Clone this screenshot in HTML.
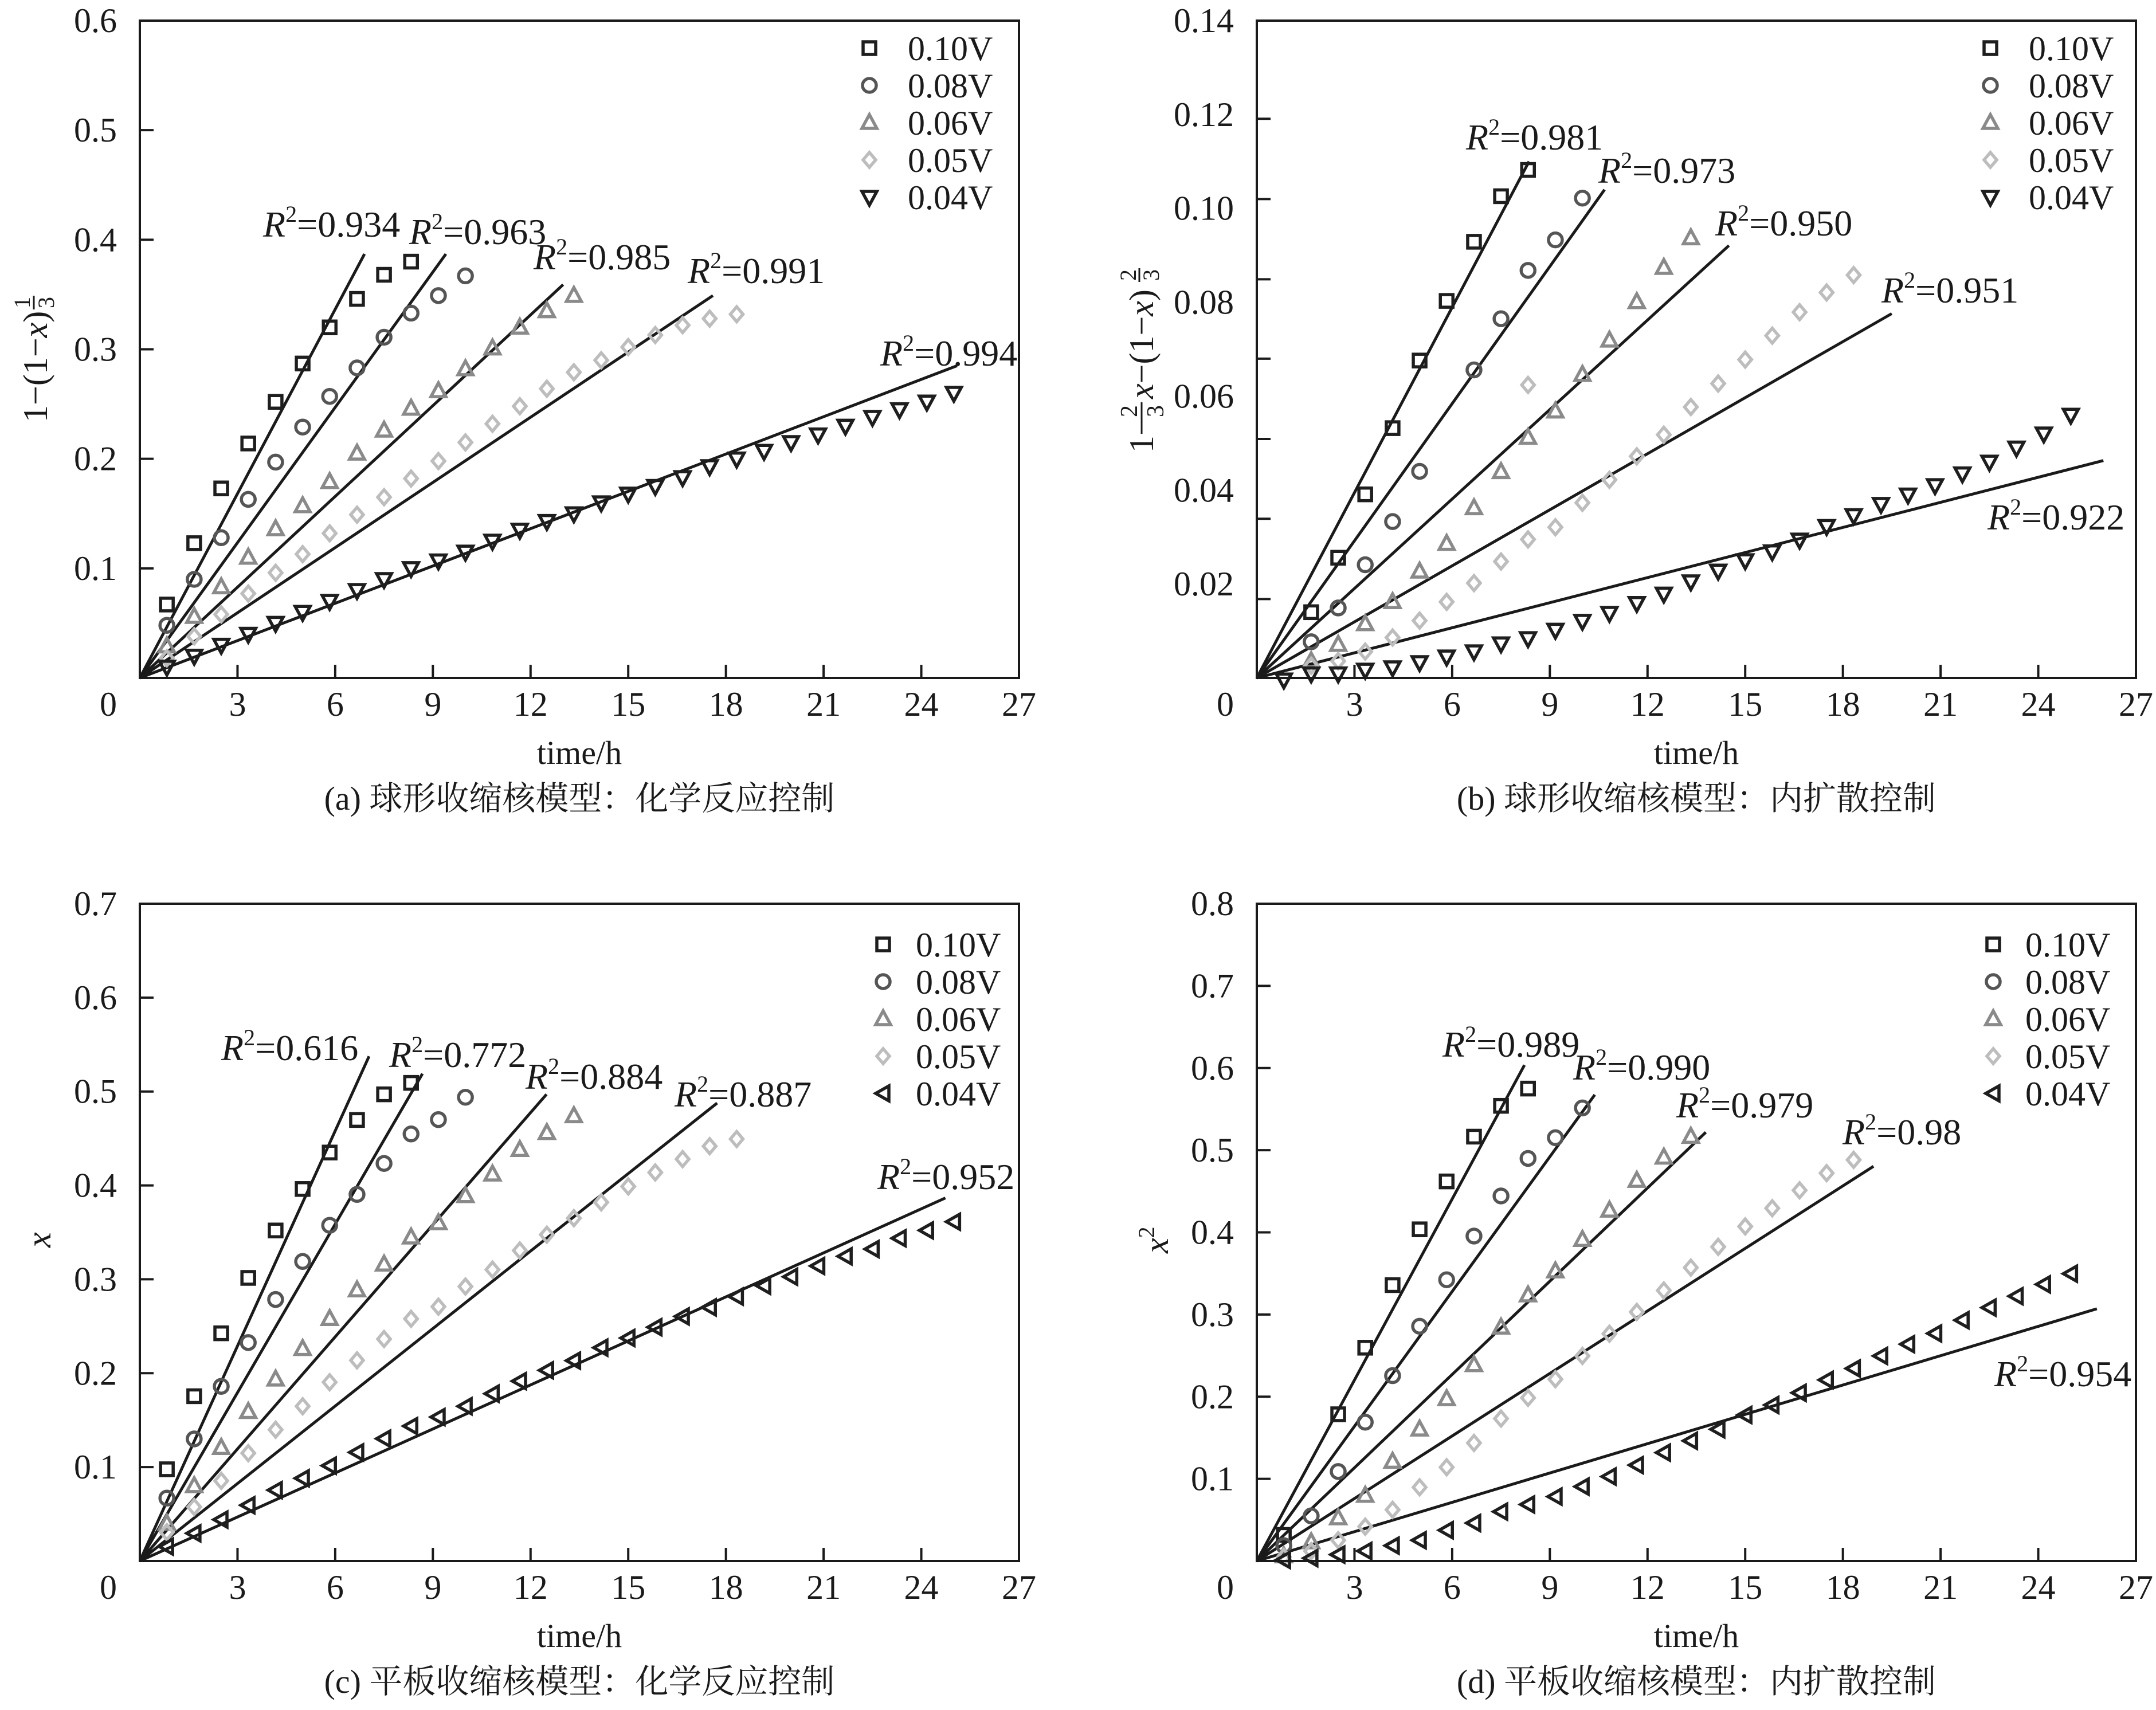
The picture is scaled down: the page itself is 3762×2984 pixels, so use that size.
<!DOCTYPE html>
<html><head><meta charset="utf-8">
<style>
html,body{margin:0;padding:0;background:#fff;}
svg{display:block;}
text{font-family:"Liberation Serif","Noto Serif CJK SC",serif;fill:#1a1a1a;}
.cap{font-family:"Liberation Serif","Noto Serif CJK SC","Noto Sans CJK SC",serif;}
</style></head>
<body>
<svg id="fig" xmlns="http://www.w3.org/2000/svg" width="3762" height="2984" viewBox="0 0 3762 2984">
<rect width="3762" height="2984" fill="#fff"/>
<g transform="translate(82,622) rotate(-90)">
<text x="-115" y="0" font-size="60">1−(1−<tspan font-style="italic">x</tspan>)</text>
<text x="84" y="-30" font-size="40">1</text><line x1="82" y1="-23" x2="106" y2="-23" stroke="#1a1a1a" stroke-width="3"/><text x="84" y="12" font-size="40">3</text>
</g>
<g transform="translate(2012,600) rotate(-90)">
<text x="-190" y="0" font-size="60">1−</text>
<text x="-128" y="-28" font-size="42">2</text><line x1="-132" y1="-20" x2="-102" y2="-20" stroke="#1a1a1a" stroke-width="3"/><text x="-128" y="18" font-size="42">3</text>
<text x="-96" y="0" font-size="60"><tspan font-style="italic">x</tspan>−(1−<tspan font-style="italic">x</tspan>)</text>
<text x="110" y="-30" font-size="40">2</text><line x1="108" y1="-24" x2="132" y2="-24" stroke="#1a1a1a" stroke-width="3"/><text x="110" y="10" font-size="40">3</text>
</g>
<g transform="translate(88,2165) rotate(-90)"><text x="-12" y="0" font-size="60" font-style="italic">x</text></g>
<g transform="translate(2038,2165) rotate(-90)"><text x="-22" y="0" font-size="60"><tspan font-style="italic">x</tspan><tspan font-size="40" dy="-24">2</tspan></text></g>
</svg>
<script>
const T = [0.83,1.67,2.5,3.33,4.17,5,5.83,6.67,7.5,8.33,9.17,10,10.83,11.67,12.5,13.33,14.17,15,15.83,16.67,17.5,18.33,19.17,20,20.83,21.67,22.5,23.33,24.17,25];
const seriesNames = ["0.10V","0.08V","0.06V","0.05V","0.04V"];
const xTicks = [3,6,9,12,15,18,21,24];
const xTickLabels = ["3","6","9","12","15","18","21","24","27"];
const xTickLabelVals = [3,6,9,12,15,18,21,24,27];

const a10 = [0.067,0.123,0.173,0.214,0.252,0.287,0.320,0.346,0.368,0.380];
const a08 = [0.048,0.090,0.128,0.163,0.197,0.229,0.257,0.283,0.311,0.333,0.349,0.367];
const a06 = [0.029,0.056,0.083,0.110,0.136,0.157,0.179,0.205,0.226,0.246,0.262,0.282,0.301,0.320,0.335,0.349];
const a05 = [0.018,0.038,0.058,0.077,0.096,0.113,0.132,0.149,0.165,0.182,0.198,0.215,0.232,0.248,0.264,0.279,0.290,0.302,0.313,0.322,0.328,0.332];
const a04 = [0.010,0.020,0.030,0.040,0.050,0.060,0.070,0.080,0.090,0.100,0.107,0.115,0.125,0.135,0.143,0.150,0.160,0.168,0.175,0.183,0.193,0.200,0.207,0.215,0.222,0.230,0.238,0.245,0.252,0.260];
const aFitEndT = [6.9,9.4,13.0,17.6,25.1];
const aFitEndV = [0.387,0.387,0.359,0.349,0.285];
const aR2 = ["0.934","0.963","0.985","0.991","0.994"];
const aYTicks = [0.1,0.2,0.3,0.4,0.5];
const aYLabels = ["0.1","0.2","0.3","0.4","0.5","0.6"];
const aYLabelVals = [0.1,0.2,0.3,0.4,0.5,0.6];

const b10 = [null,0.0140,0.0256,0.0391,0.0532,0.0676,0.0803,0.0929,0.1026,0.1082];
const b08 = [null,0.0077,0.0149,0.0241,0.0333,0.0440,null,0.0656,0.0765,0.0868,0.0933,0.1022];
const b06 = [null,0.0036,0.0071,0.0115,0.0162,0.0227,0.0286,0.0362,0.0439,0.0512,0.0568,0.0646,0.0719,0.0801,0.0874,0.0937];
const b05 = [null,0.0026,0.0036,0.0056,0.0086,0.0122,0.0162,0.0202,0.0248,0.0295,0.0321,0.0373,0.0422,0.0472,0.0518,0.0577,0.0627,0.0678,0.0729,0.0779,0.0821,0.0858];
const b05OutlierT = [8.33];
const b05OutlierV = [0.0624];
const b04 = [-0.0004,0.0009,0.0009,0.0017,0.0022,0.0033,0.0045,0.0056,0.0073,0.0084,0.0102,0.0121,0.0138,0.0159,0.0179,0.0205,0.0228,0.0250,0.0269,0.0294,0.0323,0.0346,0.0370,0.0390,0.0410,0.0435,0.0460,0.0490,0.0520,0.0560];
const bFitEndT = [8.36,10.68,14.5,19.5,26.0];
const bFitEndV = [0.110,0.104,0.0921,0.0776,0.0463];
const bR2 = ["0.981","0.973","0.950","0.951","0.922"];
const bYTicks = [0.0168,0.0339,0.0509,0.0680,0.0849,0.1020,0.1191];
const bYLabels = ["0.02","0.04","0.06","0.08","0.10","0.12","0.14"];
const bYLabelVals = [0.02,0.04,0.06,0.08,0.10,0.12,0.14];

const c10 = [0.0977,0.1755,0.2425,0.3015,0.352,0.3962,0.435,0.4697,0.497,0.5092];
const c08 = [0.067,0.130,0.186,0.2326,0.2785,0.319,0.3575,0.3904,0.4234,0.4548,0.4701,0.4939];
const c06 = [0.040,0.080,0.1207,0.159,0.1935,0.226,0.258,0.2885,0.316,0.3448,0.36,0.3889,0.4119,0.438,0.456,0.474];
const c05 = [0.0307,0.0575,0.0854,0.1149,0.1398,0.1648,0.1904,0.2137,0.2364,0.2579,0.2709,0.2923,0.3103,0.3307,0.3475,0.3651,0.382,0.3989,0.4138,0.428,0.4418,0.4494];
const c04 = [0.0153,0.0295,0.0441,0.0594,0.0755,0.0881,0.1015,0.1157,0.1303,0.1437,0.1533,0.1648,0.1782,0.1916,0.2031,0.2134,0.2272,0.2375,0.249,0.2605,0.2701,0.2816,0.2931,0.3027,0.3142,0.3245,0.3322,0.3437,0.3521,0.3613];
const cFitEndT = [7.04,8.68,12.49,17.73,24.74];
const cFitEndV = [0.5375,0.519,0.497,0.4877,0.3866];
const cR2 = ["0.616","0.772","0.884","0.887","0.952"];
const cYTicks = [0.1,0.2,0.3,0.4,0.5,0.6];
const cYLabels = ["0.1","0.2","0.3","0.4","0.5","0.6","0.7"];
const cYLabelVals = [0.1,0.2,0.3,0.4,0.5,0.6,0.7];

const d10 = [0.0318,null,0.1786,0.2596,0.3358,0.4037,0.462,0.5165,0.554,0.575];
const d08 = [0.0187,0.0549,0.1089,0.169,0.2256,0.2857,0.3423,0.3955,0.4443,0.49,0.5152,0.5514];
const d06 = [0.006,0.0231,0.0523,0.0797,0.1211,0.1603,0.1973,0.2387,0.2844,0.3236,0.3528,0.3911,0.4268,0.463,0.4913,0.5166];
const d05 = [0.005,0.012,0.0253,0.0418,0.0623,0.0897,0.1141,0.1437,0.1733,0.1986,0.2213,0.2496,0.2766,0.3031,0.3293,0.3571,0.3824,0.4072,0.4294,0.4512,0.4721,0.4882];
const d04 = [0.0013,0.0035,0.0078,0.0122,0.0187,0.0253,0.0375,0.0462,0.0601,0.0688,0.0784,0.0906,0.1028,0.1167,0.1319,0.1463,0.1603,0.1777,0.1899,0.2047,0.2204,0.2343,0.2496,0.2639,0.277,0.2931,0.3084,0.3223,0.3367,0.3497];
const dFitEndT = [8.22,10.38,13.79,18.94,25.8];
const dFitEndV = [0.6036,0.5675,0.5218,0.4804,0.307];
const dR2 = ["0.989","0.990","0.979","0.98","0.954"];
const dYTicks = [0.1,0.2,0.3,0.4,0.5,0.6,0.7];
const dYLabels = ["0.1","0.2","0.3","0.4","0.5","0.6","0.7","0.8"];
const dYLabelVals = [0.1,0.2,0.3,0.4,0.5,0.6,0.7,0.8];

const NS = "http://www.w3.org/2000/svg";
const svg = document.getElementById("fig");
const COLORS = ["#1e1e1e","#555555","#8a8a8a","#bdbdbd","#1e1e1e"];

function mk(tag, attrs, parent) {
  const e = document.createElementNS(NS, tag);
  for (const k in attrs) e.setAttribute(k, attrs[k]);
  (parent || svg).appendChild(e);
  return e;
}

function marker(g, kind, cx, cy, color) {
  let e;
  if (kind === "square") {
    e = mk("rect", {x: cx-11, y: cy-11, width: 22, height: 22, fill: "none", stroke: color, "stroke-width": 5.5}, g);
  } else if (kind === "circle") {
    e = mk("circle", {cx: cx, cy: cy, r: 12, fill: "none", stroke: color, "stroke-width": 5.5}, g);
  } else if (kind === "up") {
    e = mk("polygon", {points: `${cx},${cy-14} ${cx+13},${cy+10} ${cx-13},${cy+10}`, fill: "none", stroke: color, "stroke-width": 5.5}, g);
  } else if (kind === "diamond") {
    e = mk("polygon", {points: `${cx},${cy-13} ${cx+11},${cy} ${cx},${cy+13} ${cx-11},${cy}`, fill: "none", stroke: color, "stroke-width": 5.5}, g);
  } else if (kind === "down") {
    e = mk("polygon", {points: `${cx},${cy+14} ${cx+13},${cy-10} ${cx-13},${cy-10}`, fill: "none", stroke: color, "stroke-width": 5.5}, g);
  } else {
    e = mk("polygon", {points: `${cx-13},${cy} ${cx+10},${cy-13} ${cx+10},${cy+13}`, fill: "none", stroke: color, "stroke-width": 5.5}, g);
  }
  return e;
}

function drawPanel(p) {
  const g = mk("g", {});
  
  
  const X = t => p.x0 + t / 27 * (p.x1 - p.x0);
  const Y = v => p.y1 - v / p.ymax * (p.y1 - p.y0);

  for (let s = 0; s < 5; s++) {
    const ln = mk("line", {x1: X(0), y1: Y(0), x2: X(p.fitT[s]), y2: Y(p.fitV[s]), stroke: "#1a1a1a", "stroke-width": 5}, g);
    
    
  }
  for (let s = 0; s < 5; s++) {
    const sg = mk("g", {}, g);
    
    
    const vals = p.series[s];
    for (let i = 0; i < vals.length; i++) {
      if (vals[i] === null) continue;
      const m = marker(sg, p.kinds[s], X(T[i]), Y(vals[i]), COLORS[s]);
      
      
    }
    if (p.extra && p.extra.s === s) {
      for (let i = 0; i < p.extra.t.length; i++) {
        const m = marker(sg, p.kinds[s], X(p.extra.t[i]), Y(p.extra.v[i]), COLORS[s]);
        
        
      }
    }
  }
  const fr = mk("rect", {x: p.x0, y: p.y0, width: p.x1 - p.x0, height: p.y1 - p.y0, fill: "none", stroke: "#1a1a1a", "stroke-width": 4}, g);
  
  
  for (const t of xTicks) {
    const tk = mk("line", {x1: X(t), x2: X(t), y1: p.y1, y2: p.y1 - 23, stroke: "#1a1a1a", "stroke-width": 4}, g);
    
    
  }
  for (let i = 0; i < xTickLabels.length; i++) {
    const tx = mk("text", {x: X(xTickLabelVals[i]), y: p.y1 + 66, "font-size": 60, "text-anchor": "middle"}, g);
    tx.textContent = xTickLabels[i];
    
    
  }
  const z = mk("text", {x: p.x0 - 55, y: p.y1 + 66, "font-size": 60, "text-anchor": "middle"}, g);
  z.textContent = "0";
  
  
  for (const v of p.yTicks) {
    const tk = mk("line", {x1: p.x0, x2: p.x0 + 24, y1: Y(v), y2: Y(v), stroke: "#1a1a1a", "stroke-width": 4}, g);
    
    
  }
  for (let i = 0; i < p.yLabels.length; i++) {
    const tx = mk("text", {x: p.x0 - 40, y: Y(p.yLabelVals[i]) + 20, "font-size": 60, "text-anchor": "end"}, g);
    tx.textContent = p.yLabels[i];
    
    
  }
  for (let s = 0; s < 5; s++) {
    const tx = mk("text", {x: p.r2Pos[s][0], y: p.r2Pos[s][1], "font-size": 64}, g);
    tx.innerHTML = '<tspan font-style="italic">R</tspan><tspan font-size="40" dy="-26">2</tspan><tspan dy="26">=' + p.r2[s] + '</tspan>';
    
    
  }
  const lg = mk("g", {}, g);
  
  
  for (let s = 0; s < 5; s++) {
    const cy = p.legY + s * 65;
    marker(lg, p.kinds[s], p.legMX, cy, COLORS[s]);
    const tx = mk("text", {x: p.legTX, y: cy + 21, "font-size": 60}, lg);
    tx.textContent = seriesNames[s];
    
    
  }
  const xt = mk("text", {x: (p.x0 + p.x1) / 2, y: p.y1 + 150, "font-size": 58, "text-anchor": "middle"}, g);
  xt.textContent = "time/h";
  
  
  const cp = mk("text", {x: (p.x0 + p.x1) / 2, y: p.y1 + 230, "font-size": 58, "text-anchor": "middle", class: "cap"}, g);
  cp.textContent = p.caption;
  
  
}

drawPanel({id: "a", x0: 244, x1: 1778, y0: 36, y1: 1183, ymax: 0.6,
  series: [a10, a08, a06, a05, a04], kinds: ["square","circle","up","diamond","down"],
  fitT: aFitEndT, fitV: aFitEndV, r2: aR2,
  r2Pos: [[459,413],[714,426],[931,470],[1200,494],[1536,638]],
  yTicks: aYTicks, yLabels: aYLabels, yLabelVals: aYLabelVals,
  legY: 84, legMX: 1517, legTX: 1584, caption: "(a) 球形收缩核模型：化学反应控制"});

drawPanel({id: "b", x0: 2193, x1: 3727, y0: 36, y1: 1183, ymax: 0.14,
  series: [b10, b08, b06, b05, b04], kinds: ["square","circle","up","diamond","down"],
  extra: {s: 3, t: b05OutlierT, v: b05OutlierV},
  fitT: bFitEndT, fitV: bFitEndV, r2: bR2,
  r2Pos: [[2558,261],[2789,319],[2993,411],[3283,528],[3468,924]],
  yTicks: bYTicks, yLabels: bYLabels, yLabelVals: bYLabelVals,
  legY: 84, legMX: 3473, legTX: 3540, caption: "(b) 球形收缩核模型：内扩散控制"});

drawPanel({id: "c", x0: 244, x1: 1778, y0: 1577, y1: 2724, ymax: 0.7,
  series: [c10, c08, c06, c05, c04], kinds: ["square","circle","up","diamond","left"],
  fitT: cFitEndT, fitV: cFitEndV, r2: cR2,
  r2Pos: [[386,1850],[679,1862],[917,1900],[1177,1931],[1531,2075]],
  yTicks: cYTicks, yLabels: cYLabels, yLabelVals: cYLabelVals,
  legY: 1648, legMX: 1541, legTX: 1598, caption: "(c) 平板收缩核模型：化学反应控制"});

drawPanel({id: "d", x0: 2193, x1: 3727, y0: 1577, y1: 2724, ymax: 0.8,
  series: [d10, d08, d06, d05, d04], kinds: ["square","circle","up","diamond","left"],
  fitT: dFitEndT, fitV: dFitEndV, r2: dR2,
  r2Pos: [[2517,1844],[2745,1884],[2925,1950],[3215,1997],[3480,2419]],
  yTicks: dYTicks, yLabels: dYLabels, yLabelVals: dYLabelVals,
  legY: 1648, legMX: 3478, legTX: 3534, caption: "(d) 平板收缩核模型：内扩散控制"});
</script>
</body></html>
